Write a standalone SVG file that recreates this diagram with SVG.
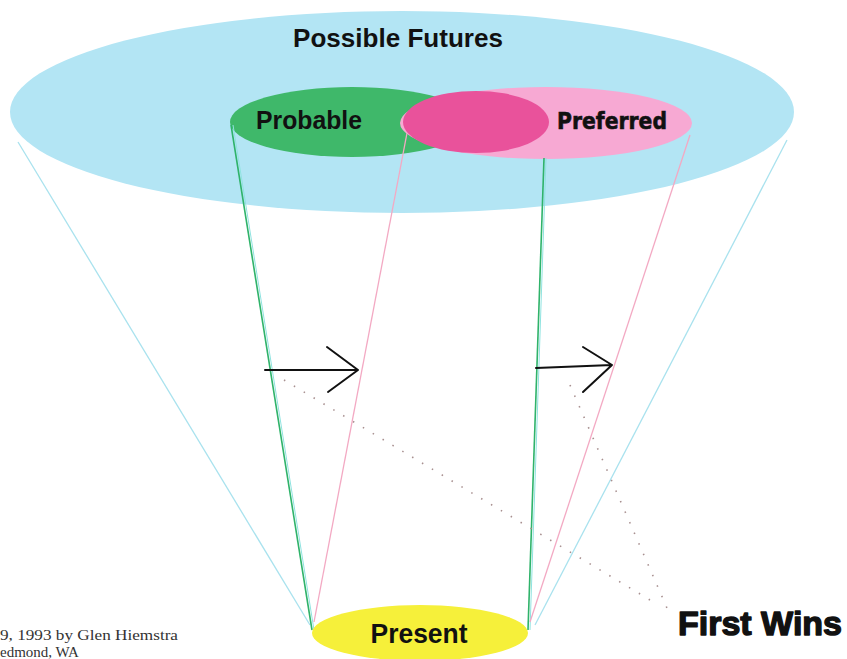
<svg xmlns="http://www.w3.org/2000/svg" width="847" height="659" viewBox="0 0 847 659">
  <style>
    .lbl { font-family: "Liberation Sans", Arial, sans-serif; font-weight: bold; fill: #111; }
    .heavy { font-family: "DejaVu Sans", "Liberation Sans", sans-serif; font-weight: bold; fill: #111; stroke: #111; stroke-width: 0.6; }
    .wins { font-family: "Liberation Sans", Arial, sans-serif; font-weight: bold; fill: #111; stroke: #111; stroke-width: 1.4; stroke-linejoin: round; }
    .note { font-family: "Liberation Serif", "Times New Roman", serif; font-size: 15px; fill: #333; }
    .cyan { stroke: #a9e2ee; stroke-width: 1.3; fill: none; }
    .green { stroke: #2fb36a; stroke-width: 1.6; fill: none; }
    .greenb { stroke: #8fe3e0; stroke-width: 1; fill: none; }
    .pink { stroke: #f3a9c3; stroke-width: 1.3; fill: none; }
    .arrow { stroke: #111; stroke-width: 2; fill: none; stroke-linecap: round; stroke-linejoin: round; }
    .dots { stroke: #a89090; stroke-width: 1.6; stroke-dasharray: 1.5 10; fill: none; }
  </style>
  <rect width="847" height="659" fill="#ffffff"/>

  <g id="possible">
    <ellipse cx="402" cy="112" rx="392" ry="101" fill="#b3e5f4"/>
    <text class="lbl" x="398" y="47" font-size="26" text-anchor="middle" textLength="210" lengthAdjust="spacingAndGlyphs">Possible Futures</text>
  </g>

  <g id="probable">
    <ellipse cx="352" cy="122" rx="122" ry="35" fill="#3fb86a"/>
    <text class="lbl" x="256" y="129" font-size="25" textLength="106" lengthAdjust="spacingAndGlyphs">Probable</text>
  </g>

  <g id="preferred">
    <ellipse cx="546" cy="123" rx="146" ry="36" fill="#f7a9d3"/>
    <ellipse cx="476" cy="122" rx="73" ry="31" fill="#e9529b"/>
    <text class="heavy" x="557" y="129" font-size="23" textLength="110" lengthAdjust="spacingAndGlyphs">Preferred</text>
  </g>

  <g id="connectors">
    <line class="cyan" x1="18" y1="142" x2="310" y2="625"/>
    <line class="cyan" x1="787" y1="140" x2="535" y2="625"/>
    <line class="greenb" x1="233" y1="125" x2="314" y2="630"/>
    <line class="green" x1="231" y1="125" x2="312" y2="630"/>
    <line class="greenb" x1="546" y1="158" x2="530" y2="630"/>
    <line class="green" x1="544" y1="158" x2="528" y2="630"/>
    <line class="pink" x1="407" y1="133" x2="314" y2="622"/>
    <line class="pink" x1="690" y1="135" x2="530" y2="622"/>
    <line class="dots" x1="284" y1="380" x2="650" y2="600"/>
    <line class="dots" x1="570" y1="385" x2="670" y2="615"/>
    <path class="arrow" d="M265 370 H358 M327 347 L358 370 L328 392"/>
    <path class="arrow" d="M536 368 L612 365 M583 347 L612 365 L583 392"/>
  </g>

  <g id="present">
    <ellipse cx="420" cy="633" rx="108" ry="28" fill="#f6f03a"/>
    <text class="lbl" x="419" y="643" font-size="27" text-anchor="middle" textLength="97" lengthAdjust="spacingAndGlyphs">Present</text>
  </g>

  <g id="first-wins">
    <text class="wins" x="678" y="635" font-size="34" textLength="164" lengthAdjust="spacingAndGlyphs">First Wins</text>
  </g>

  <g id="credit">
    <text class="note" x="0" y="640" textLength="178" lengthAdjust="spacingAndGlyphs">9, 1993 by Glen Hiemstra</text>
    <text class="note" x="0" y="657">edmond, WA</text>
  </g>
</svg>
